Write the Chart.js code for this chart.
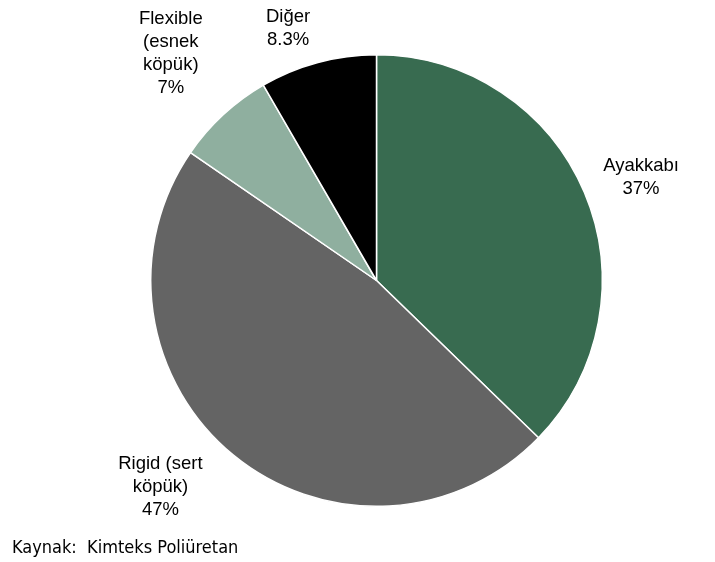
<!DOCTYPE html>
<html>
<head>
<meta charset="utf-8">
<script src="https://cdn.jsdelivr.net/npm/chart.js@4.4.1/dist/chart.umd.min.js"></script>
<style>
  html, body { margin: 0; padding: 0; background: #fff; }
  #wrap { position: relative; width: 715px; height: 562px; }
  #source {
    position: absolute; left: 12px; top: 536px;
    font-family: "DejaVu Sans Condensed", "DejaVu Sans", sans-serif;
    font-size: 18px; line-height: 22px; color: #000; white-space: pre;
  }
</style>
</head>
<body>
<div id="wrap">
  <canvas id="pieChart" width="715" height="562"></canvas>
  <div id="source">Kaynak:  Kimteks Poliüretan</div>
</div>
<script>
const categories = ["Ayakkabı", "Rigid (sert köpük)", "Flexible (esnek köpük)", "Diğer"];
const shares = [37, 47, 7, 8.3];
const valueLabels = ["37%", "47%", "7%", "8.3%"];
const labelLines = [
  ["Ayakkabı", "37%"],
  ["Rigid (sert", "köpük)", "47%"],
  ["Flexible", "(esnek", "köpük)", "7%"],
  ["Diğer", "8.3%"],
];
const colors = ["#386b50", "#646464", "#8faf9f", "#000000"];

// label nudges relative to a point just outside each slice (style only)
const labelNudge = [[29, -3], [-54, 9], [-32, -39], [-22, -5]];

const outsideLabels = {
  id: "outsideLabels",
  afterDatasetsDraw(chart) {
    const ctx = chart.ctx;
    const meta = chart.getDatasetMeta(0);
    ctx.save();
    ctx.font = "18.5px 'Liberation Sans', Arial, sans-serif";
    ctx.fillStyle = "#000";
    ctx.textAlign = "center";
    ctx.textBaseline = "middle";
    const lh = 23;
    meta.data.forEach((arc, i) => {
      const { x, y, startAngle, endAngle, outerRadius } = arc.getProps(
        ["x", "y", "startAngle", "endAngle", "outerRadius"], true);
      const mid = (startAngle + endAngle) / 2;
      const r = outerRadius + 30;
      const cx = x + Math.cos(mid) * r + labelNudge[i][0];
      const cy = y + Math.sin(mid) * r + labelNudge[i][1];
      const lines = labelLines[i];
      const top = cy - (lines.length - 1) * lh / 2;
      lines.forEach((t, j) => ctx.fillText(t, cx, top + j * lh));
    });
    ctx.restore();
  },
};

new Chart(document.getElementById("pieChart"), {
  type: "pie",
  data: {
    labels: categories,
    datasets: [{
      data: shares,
      backgroundColor: colors,
      borderColor: "#ffffff",
      borderWidth: 1.5,
    }],
  },
  plugins: [outsideLabels],
  options: {
    responsive: false,
    animation: false,
    layout: { padding: { top: 54, bottom: 55, left: 150, right: 112 } },
    plugins: {
      legend: { display: false },
      tooltip: { enabled: false },
    },
  },
});
</script>
</body>
</html>
